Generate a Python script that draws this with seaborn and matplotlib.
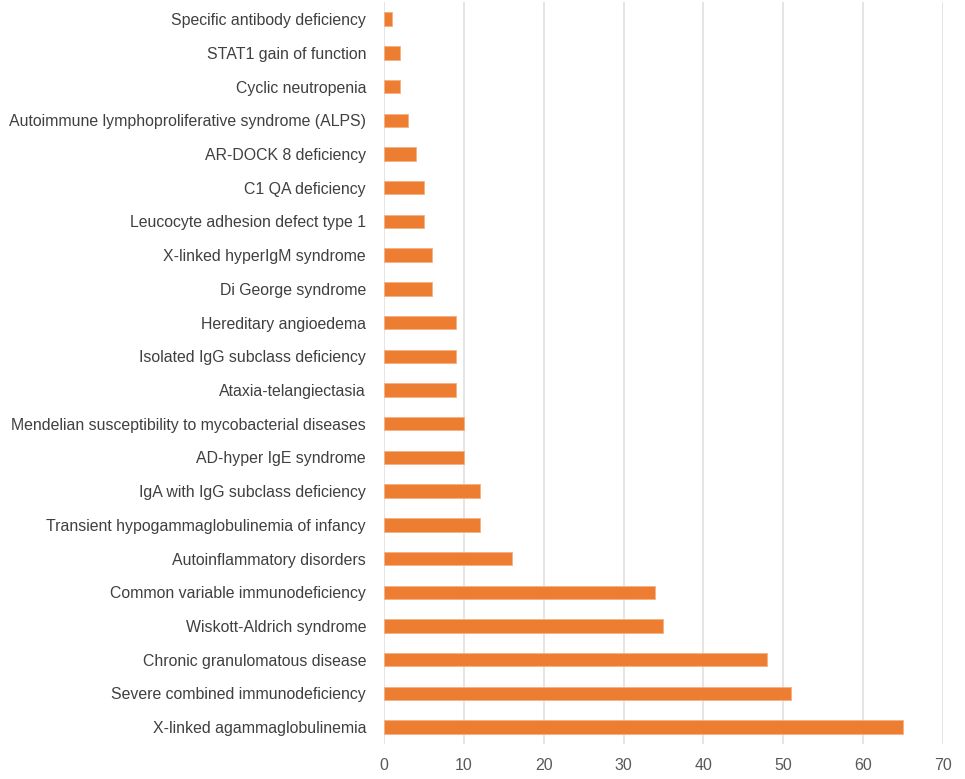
import matplotlib
matplotlib.use("Agg")
import matplotlib.pyplot as plt
import seaborn as sns
import pandas as pd

categories = [
    "Specific antibody deficiency",
    "STAT1 gain of function",
    "Cyclic neutropenia",
    "Autoimmune lymphoproliferative syndrome (ALPS)",
    "AR-DOCK 8 deficiency",
    "C1 QA deficiency",
    "Leucocyte adhesion defect type 1",
    "X-linked hyperIgM syndrome",
    "Di George syndrome",
    "Hereditary angioedema",
    "Isolated IgG subclass deficiency",
    "Ataxia-telangiectasia",
    "Mendelian susceptibility to mycobacterial diseases",
    "AD-hyper IgE syndrome",
    "IgA with IgG subclass deficiency",
    "Transient hypogammaglobulinemia of infancy",
    "Autoinflammatory disorders",
    "Common variable immunodeficiency",
    "Wiskott-Aldrich syndrome",
    "Chronic granulomatous disease",
    "Severe combined immunodeficiency",
    "X-linked agammaglobulinemia",
]
values = [1, 2, 2, 3, 4, 5, 5, 6, 6, 9, 9, 9, 10, 10, 12, 12, 16, 34, 35, 48, 51, 65]
xticks = [0, 10, 20, 30, 40, 50, 60, 70]

sns.set_theme(style="white")
plt.rcParams['font.family'] = ['Liberation Sans', 'DejaVu Sans']

df = pd.DataFrame({"category": categories, "value": values})

fig = plt.figure(figsize=(9.65, 7.79), dpi=100)
ax = fig.add_axes([0.398, 0.045, 0.579, 0.952])
sns.barplot(data=df, y="category", x="value", color="#ED7D31", width=0.4,
            edgecolor="#F4B183", linewidth=0.6, saturation=1, ax=ax, orient="h")

ax.set_xlim(0, 70)
ax.set_xticks(xticks)
ax.set_xticklabels([str(t) for t in xticks])
ax.set_ylim(len(categories) - 0.5, -0.5)
ax.xaxis.grid(True, color="#DEDEDE", linewidth=1.1)
ax.set_axisbelow(True)
for s in ax.spines.values():
    s.set_visible(False)
ax.set_xlabel("")
ax.set_ylabel("")
ax.tick_params(axis="y", length=0, pad=13, labelsize=11.4, labelcolor="#404040")
ax.tick_params(axis="x", length=0, pad=10, labelsize=11.5, labelcolor="#595959")

fig.savefig("out.png", dpi=100)
